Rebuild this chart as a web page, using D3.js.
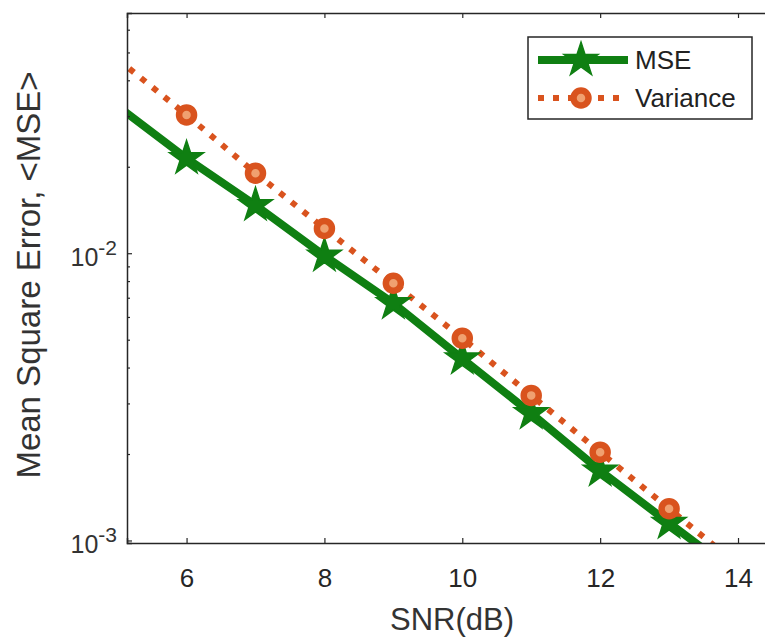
<!DOCTYPE html>
<html>
<head>
<meta charset="utf-8">
<script src="https://cdn.jsdelivr.net/npm/d3@7"></script>
<style>
  body { margin: 0; background: #fff; }
  text { font-family: "Liberation Sans", Arial, sans-serif; fill: #262626; }
</style>
</head>
<body>
<div id="chart"></div>
<script>
// SNR values (dB) and series
const snr = [5, 6, 7, 8, 9, 10, 11, 12, 13, 14];
const mse = [0.0325, 0.0214, 0.0147, 0.0098, 0.0067, 0.0043, 0.00277, 0.00175, 0.00115, 0.00076];
const variance = [0.0474, 0.0303, 0.0190, 0.0122, 0.00786, 0.00506, 0.0032, 0.00203, 0.00129, 0.00082];
const xTicks = [6, 8, 10, 12, 14];
const yTicks = [0.001, 0.01];
const seriesNames = ["MSE", "Variance"];

const width = 765, height = 639;
const margin = {top: 13, right: -5, bottom: 96, left: 127};

const svg = d3.select("#chart").append("svg")
    .attr("width", width)
    .attr("height", height);

const x = d3.scaleLinear().domain([5.136, 14.464]).range([margin.left, width - margin.right]);
const y = d3.scaleLog().domain([0.00098, 0.0686]).range([height - margin.bottom, margin.top]);

// clip region for the plot area
svg.append("clipPath").attr("id", "plotclip")
  .append("rect")
    .attr("x", margin.left).attr("y", margin.top)
    .attr("width", width - margin.right - margin.left)
    .attr("height", height - margin.bottom - margin.top);

const green = "#0f7f12";
const orange = "#d9531e";

const plot = svg.append("g").attr("clip-path", "url(#plotclip)");

const line = d3.line().x((d, i) => x(snr[i])).y(d => y(d));

// Variance: dotted line with ring markers
plot.append("path")
    .datum(variance)
    .attr("d", line)
    .attr("fill", "none")
    .attr("stroke", orange)
    .attr("stroke-width", 6)
    .attr("stroke-dasharray", "6,9");

// MSE: thick solid line with pentagram markers
plot.append("path")
    .datum(mse)
    .attr("d", line)
    .attr("fill", "none")
    .attr("stroke", green)
    .attr("stroke-width", 8);

const [x0, x1] = x.domain();
const inside = d => d.x >= x0 && d.x <= x1;
const mseData = snr.map((s, i) => ({x: s, v: mse[i]})).filter(inside);
const varData = snr.map((s, i) => ({x: s, v: variance[i]})).filter(inside);

const star = d3.symbol().type(d3.symbolStar).size(360);

plot.selectAll(".star")
  .data(mseData)
  .enter().append("path")
    .attr("class", "star")
    .attr("d", star)
    .attr("transform", d => `translate(${x(d.x)},${y(d.v)})`)
    .attr("fill", green)
    .attr("stroke", green)
    .attr("stroke-width", 1.5);

plot.selectAll(".ring")
  .data(varData)
  .enter().append("circle")
    .attr("class", "ring")
    .attr("cx", d => x(d.x))
    .attr("cy", d => y(d.v))
    .attr("r", 7.5)
    .attr("fill", "#f0a070")
    .attr("stroke", orange)
    .attr("stroke-width", 6.5);

// axes box
const axisColor = "#262626";
const xAxisB = d3.axisBottom(x).tickValues(xTicks).tickSize(-5).tickPadding(26).tickFormat(d3.format("d"));
const xAxisT = d3.axisTop(x).tickValues(xTicks).tickSize(-5).tickFormat("");
const yAxisL = d3.axisLeft(y).tickValues(yTicks).tickSize(-5).tickFormat("");

const minorTicks = [];
[0.001, 0.01].forEach(b => { for (let k = 2; k <= 9; k++) minorTicks.push(b * k); });
const yMinor = d3.axisLeft(y).tickValues(minorTicks.filter(v => v < y.domain()[1])).tickSize(-3).tickFormat("");

const gxb = svg.append("g").attr("transform", `translate(0,${height - margin.bottom})`).call(xAxisB);
const gxt = svg.append("g").attr("transform", `translate(0,${margin.top})`).call(xAxisT);
const gyl = svg.append("g").attr("transform", `translate(${margin.left},0)`).call(yAxisL);
const gym = svg.append("g").attr("transform", `translate(${margin.left},0)`).call(yMinor);

[gxb, gxt, gyl, gym].forEach(g => {
  g.selectAll(".domain").attr("stroke", axisColor).attr("stroke-width", 1.5);
  g.selectAll(".tick line").attr("stroke", axisColor).attr("stroke-width", 1.2);
});
gxb.selectAll(".tick text").attr("font-size", 26).attr("fill", "#333");
gym.select(".domain").remove();

// y tick labels as 10^n with superscripts
yTicks.forEach(v => {
  const t = svg.append("text")
      .attr("x", margin.left - 10)
      .attr("y", y(v) + 13)
      .attr("text-anchor", "end")
      .attr("font-size", 25)
      .style("fill", "#333");
  t.append("tspan").text("10");
  t.append("tspan").attr("dy", -11).attr("font-size", 21).text(String(Math.round(Math.log10(v))));
});

// axis titles
svg.append("text")
    .attr("x", 452)
    .attr("y", 630)
    .attr("text-anchor", "middle")
    .attr("font-size", 31)
    .style("fill", "#333")
    .text("SNR(dB)");

svg.append("text")
    .attr("transform", "translate(40,275) rotate(-90)")
    .attr("text-anchor", "middle")
    .attr("font-size", 33)
    .style("fill", "#333")
    .text("Mean Square Error, <MSE>");

// legend
const lg = svg.append("g").attr("transform", "translate(528,37)");
lg.append("rect")
    .attr("width", 224).attr("height", 82)
    .attr("fill", "#fff")
    .attr("stroke", axisColor)
    .attr("stroke-width", 1.5);

const rowY = [23, 61];
lg.append("line").attr("x1", 10).attr("x2", 100).attr("y1", rowY[0]).attr("y2", rowY[0])
    .attr("stroke", green).attr("stroke-width", 8);
lg.append("path").attr("d", star).attr("transform", `translate(53,${rowY[0]})`)
    .attr("fill", green).attr("stroke", green).attr("stroke-width", 1.5);
lg.append("line").attr("x1", 10).attr("x2", 100).attr("y1", rowY[1]).attr("y2", rowY[1])
    .attr("stroke", orange).attr("stroke-width", 6).attr("stroke-dasharray", "6,9");
lg.append("circle").attr("cx", 53).attr("cy", rowY[1]).attr("r", 7.5)
    .attr("fill", "#f0a070").attr("stroke", orange).attr("stroke-width", 6.5);

seriesNames.forEach((name, i) => {
  lg.append("text")
      .attr("x", 107)
      .attr("y", rowY[i] + 9)
      .attr("font-size", 26)
      .style("fill", "#222")
      .text(name);
});
</script>
</body>
</html>
